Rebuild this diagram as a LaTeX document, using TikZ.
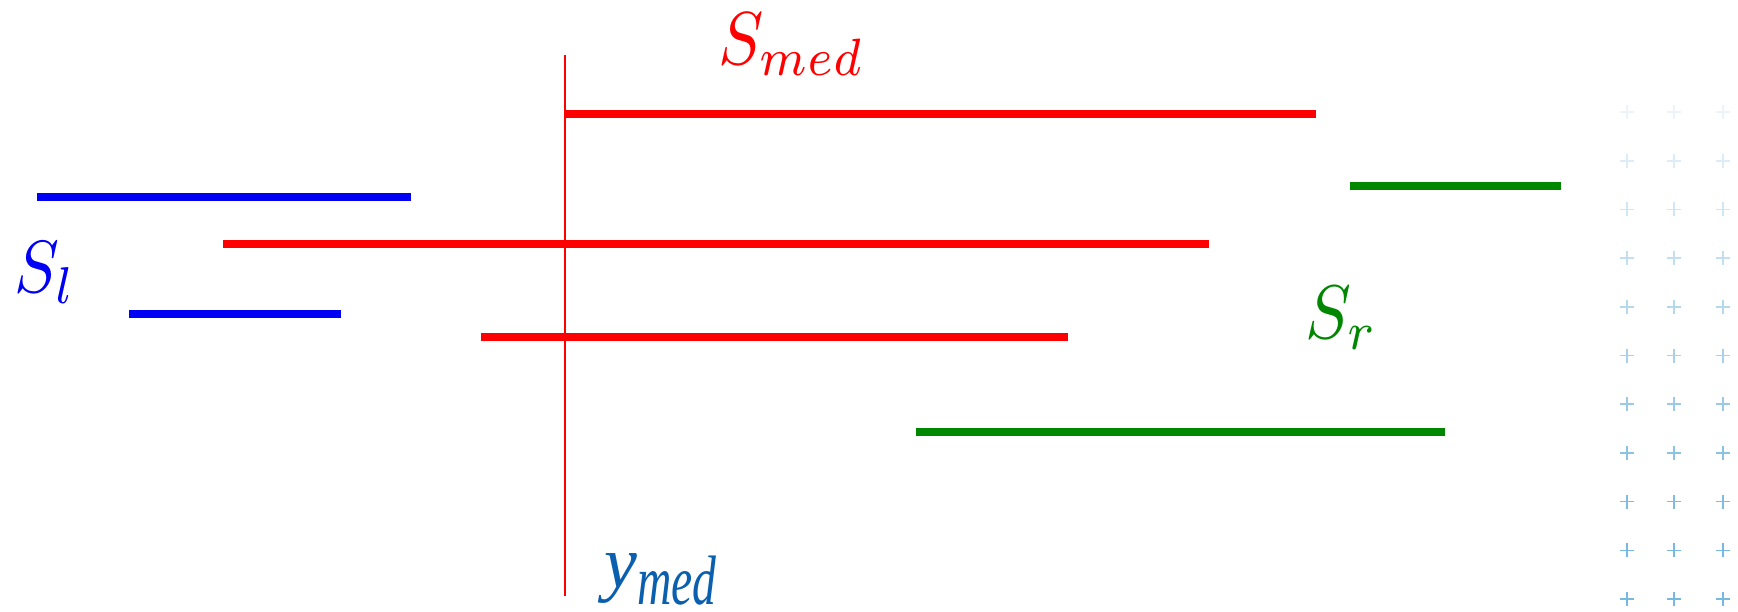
\documentclass[tikz,border=0pt]{standalone}
\usepackage{fontspec}
\newfontfamily\timesfont{Liberation Serif}
\definecolor{segred}{RGB}{255,0,0}
\definecolor{segblue}{RGB}{0,0,245}
\definecolor{seggreen}{RGB}{0,135,0}
\definecolor{ymedblue}{RGB}{10,95,175}
\definecolor{crossblue}{RGB}{120,185,225}
\begin{document}
\begin{tikzpicture}[x=1pt,y=-1pt,
  seg/.style={line width=8pt},
  lbl/.style={inner sep=0pt, anchor=base west},
  crossmark/.style={line width=1.6pt, draw=crossblue}]
\useasboundingbox[fill=white] (0,0) rectangle (1738,611);
% median line
\coordinate (mtop) at (565,55);
\coordinate (mbot) at (565,596);
\draw[segred, line width=1.8pt] (mtop) -- (mbot);
% red segments
\draw[seg, segred] (565,114) -- (1316,114);
\draw[seg, segred] (223,244) -- (1209,244);
\draw[seg, segred] (481,337) -- (1068,337);
% blue segments
\draw[seg, segblue] (37,197) -- (411,197);
\draw[seg, segblue] (129,314) -- (341,314);
% green segments
\draw[seg, seggreen] (1350,186) -- (1561,186);
\draw[seg, seggreen] (916,432) -- (1445,432);
% labels
\node[lbl, text=segred] (smed) at (718,64) {\scalebox{6.75}[7.5]{$S_{med}$}};
\node[lbl, text=segblue] (sl) at (14,292) {\scalebox{6.7}[7.4]{$S_l$}};
\node[lbl, text=seggreen] (sr) at (1305,338) {\scalebox{6.85}[7.6]{$S_r$}};
\node[lbl, text=ymedblue] (ymed) at (604,587) {\fontsize{74}{80}\timesfont\itshape y\raisebox{-17pt}{\fontsize{70}{72}\selectfont\scalebox{0.68}[1]{med}}};
% decorative crosses
\foreach \r in {0,...,10} {
  \pgfmathsetmacro{\op}{min(1,0.15+0.1*\r)}
  \foreach \cx in {1627,1674,1723} {
    \pgfmathsetmacro{\cy}{112+48.7*\r}
    \draw[crossmark, draw opacity=\op] (\cx-7,\cy) -- (\cx+7,\cy) (\cx,\cy-7) -- (\cx,\cy+7);
  }
}
\end{tikzpicture}
\end{document}
